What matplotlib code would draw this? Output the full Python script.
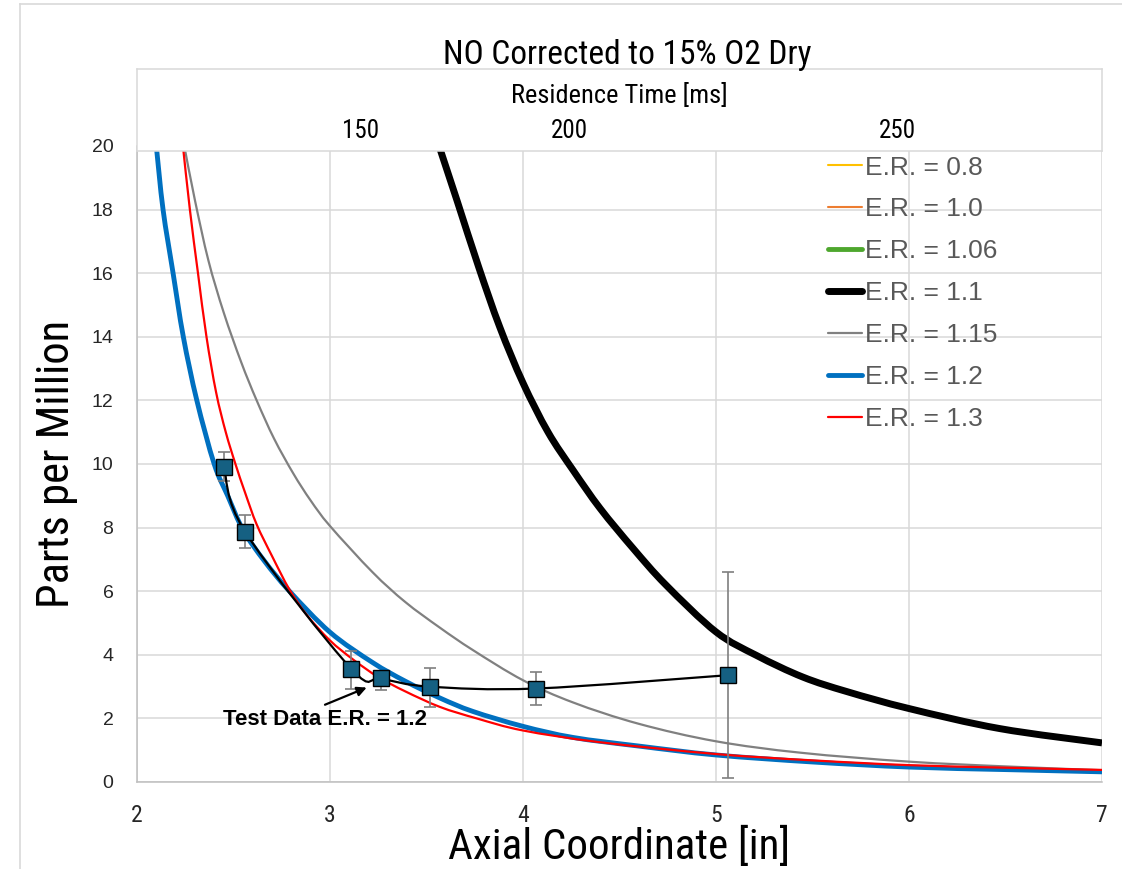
import matplotlib
matplotlib.use("Agg")
import matplotlib.pyplot as plt
from matplotlib.lines import Line2D
from matplotlib.path import Path
from matplotlib.patches import PathPatch
from matplotlib import font_manager

# =========================
# data
# =========================

# E.R. = 1.2 model curve
x_er12 = [2.10, 2.135, 2.187, 2.24, 2.31, 2.40, 2.47, 2.55, 2.66, 2.79, 3.0, 3.22, 3.39, 3.57, 3.74, 4.0, 4.26, 4.6, 5.0, 5.5, 6.0, 6.5, 7.0]
y_er12 = [20.0, 18.0, 16.0, 14.0, 12.0, 10.0, 9.0, 7.92, 6.95, 6.0, 4.71, 3.76, 3.17, 2.64, 2.22, 1.75, 1.40, 1.13, 0.85, 0.63, 0.47, 0.39, 0.32]

# E.R. = 1.3 model curve
x_er13 = [2.238, 2.274, 2.316, 2.36, 2.41, 2.46, 2.51, 2.56, 2.62, 2.70, 2.79, 2.88, 3.0, 3.12, 3.25, 3.39, 3.57, 3.76, 4.0, 4.4, 5.0, 5.5, 6.0, 6.5, 7.0]
y_er13 = [20.0, 18.0, 16.0, 14.0, 12.25, 11.0, 10.0, 9.1, 8.1, 7.1, 6.05, 5.25, 4.45, 3.85, 3.3, 2.85, 2.36, 2.0, 1.62, 1.25, 0.88, 0.68, 0.53, 0.45, 0.38]

# E.R. = 1.15 model curve
x_er115 = [2.245, 2.30, 2.37, 2.45, 2.54, 2.62, 2.71, 2.81, 2.90, 3.0, 3.22, 3.39, 3.57, 3.74, 4.0, 4.26, 4.6, 5.0, 5.44, 6.0, 6.5, 7.0]
y_er115 = [20.0, 18.3, 16.4, 14.75, 13.2, 12.0, 10.8, 9.7, 8.85, 8.05, 6.6, 5.66, 4.85, 4.15, 3.2, 2.5, 1.83, 1.28, 0.92, 0.64, 0.49, 0.37]

# E.R. = 1.1 model curve
x_er11 = [3.565, 3.66, 3.77, 3.88, 4.00, 4.13, 4.26, 4.40, 4.57, 4.74, 5.0, 5.21, 5.45, 5.68, 6.0, 6.47, 7.0]
y_er11 = [20.0, 18.25, 16.2, 14.3, 12.55, 11.0, 9.8, 8.6, 7.35, 6.2, 4.72, 3.98, 3.3, 2.84, 2.31, 1.68, 1.23]

# E.R. = 0.8, 1.0, 1.06 lie above 20 ppm everywhere in the window (legend only)
x_er08, y_er08 = [], []
x_er10, y_er10 = [], []
x_er106, y_er106 = [], []

# test data E.R. = 1.2
x_test = [2.45, 2.56, 3.11, 3.265, 3.516, 4.069, 5.064]
y_test = [9.92, 7.87, 3.56, 3.26, 3.0, 2.94, 3.36]
y_test_hi = [10.38, 8.40, 4.12, 3.50, 3.59, 3.47, 6.59]
y_test_lo = [9.45, 7.36, 2.91, 2.90, 2.37, 2.41, 0.14]

# residence time axis (top)
res_labels = ["150", "200", "250"]
res_pos = [3.16, 4.24, 5.94]

x_ticks = [2, 3, 4, 5, 6, 7]
y_ticks = [0, 2, 4, 6, 8, 10, 12, 14, 16, 18, 20]


# =========================
# fonts
# =========================

names = {f.name for f in font_manager.fontManager.ttflist}
narrow = "DejaVu Sans"
for cand in ["Liberation Sans Narrow", "Roboto Condensed", "Open Sans Condensed"]:
    if cand in names:
        narrow = cand
        break

plt.rcParams["font.family"] = ["Liberation Sans", "DejaVu Sans"]


# =========================
# smoothed line (like Excel "smoothed line")
# =========================

def smooth_path(xs, ys):
    pts = list(zip(xs, ys))
    n = len(pts)
    verts = [pts[0]]
    codes = [Path.MOVETO]
    for i in range(n - 1):
        p0 = pts[i - 1] if i > 0 else pts[i]
        p1 = pts[i]
        p2 = pts[i + 1]
        p3 = pts[i + 2] if i + 2 < n else pts[i + 1]
        c1 = (p1[0] + (p2[0] - p0[0]) / 6, p1[1] + (p2[1] - p0[1]) / 6)
        c2 = (p2[0] - (p3[0] - p1[0]) / 6, p2[1] - (p3[1] - p1[1]) / 6)
        verts += [c1, c2, p2]
        codes += [Path.CURVE4] * 3
    return Path(verts, codes)


def curve(ax, xs, ys, color, lw, label, z=3):
    if len(xs) > 1:
        ax.add_patch(PathPatch(smooth_path(xs, ys), fill=False, edgecolor=color,
                               lw=lw, capstyle="butt", joinstyle="round", zorder=z))
    # legend entry
    ax.plot([], [], color=color, lw=lw, label=label, solid_capstyle="round")


# =========================
# figure
# =========================

W, H = 1122, 869
fig = plt.figure(figsize=(W / 100, H / 100), dpi=100)

L, R = 137 / W, 1102 / W
B, T = 1 - 782 / H, 1 - 146 / H
ax = fig.add_axes([L, B, R - L, T - B])

curve(ax, x_er08, y_er08, "#FFC000", 1.5, "E.R. = 0.8")
curve(ax, x_er10, y_er10, "#ED7D31", 1.5, "E.R. = 1.0")
curve(ax, x_er106, y_er106, "#4EA72E", 3.5, "E.R. = 1.06")
curve(ax, x_er11, y_er11, "black", 5, "E.R. = 1.1")
curve(ax, x_er115, y_er115, "#808080", 1.6, "E.R. = 1.15")
curve(ax, x_er12, y_er12, "#0070C0", 3.5, "E.R. = 1.2")
curve(ax, x_er13, y_er13, "#FF0000", 1.6, "E.R. = 1.3")

# test data
yerr = [
    [y - lo for y, lo in zip(y_test, y_test_lo)],
    [hi - y for y, hi in zip(y_test, y_test_hi)],
]
ax.errorbar(
    x_test, y_test, yerr=yerr,
    fmt="none", ecolor="#7F7F7F", elinewidth=1.2, capsize=4, capthick=1.2,
    zorder=5
)
ax.add_patch(PathPatch(smooth_path(x_test, y_test), fill=False,
                       edgecolor="black", lw=1.6, zorder=6))
ax.plot(
    x_test, y_test,
    ls="none", marker="s", markersize=11,
    markerfacecolor="#156082", markeredgecolor="black", markeredgewidth=1,
    zorder=7
)

ax.text(2.974, 1.98, "Test Data E.R. = 1.2", ha="center", va="center",
        fontsize=16, fontweight="bold", color="black", zorder=8)
ax.annotate(
    "", xy=(3.19, 2.97), xytext=(2.974, 2.43),
    arrowprops=dict(arrowstyle="-|>", color="black", lw=1.6,
                    mutation_scale=14, shrinkA=0, shrinkB=0),
    zorder=8
)

ax.set_xlim(2, 7)
ax.set_ylim(0, 20)
ax.set_xticks(x_ticks)
ax.set_yticks(y_ticks)
ax.grid(True, color="#D9D9D9", lw=1.1)
ax.set_axisbelow(True)
for s in ["top", "right"]:
    ax.spines[s].set_visible(False)
for s in ["left", "bottom"]:
    ax.spines[s].set_color("#BFBFBF")
    ax.spines[s].set_linewidth(1.1)

ax.tick_params(axis="y", length=0, pad=17, labelsize=14, labelcolor="#262626")
ax.tick_params(axis="x", length=0, pad=16, labelsize=17, labelcolor="#262626")
for lab in ax.get_xticklabels():
    lab.set_family(narrow)

ax.set_xlabel("Axial Coordinate [in]", fontsize=31, family=narrow, labelpad=0)
ax.set_ylabel("Parts per Million", fontsize=32, family=narrow, labelpad=10)

leg = ax.legend(
    loc="upper left", bbox_to_anchor=(0.716, 0.985),
    frameon=False, fontsize=19, handlelength=1.3, handletextpad=0.12,
    labelspacing=0.68, borderpad=0, borderaxespad=0
)
for t in leg.get_texts():
    t.set_color("#595959")


# =========================
# top box: residence time
# =========================

tb = fig.add_axes([L, 1 - 151 / H, R - L, 82 / H])
tb.set_xlim(2, 7)
tb.set_ylim(0, 1)
tb.set_yticks([])
tb.set_xticks(res_pos, res_labels)
tb.tick_params(axis="x", length=0, pad=-23, labelsize=18, labelcolor="black")
for lab in tb.get_xticklabels():
    lab.set_family(narrow)
for s in tb.spines.values():
    s.set_color("#D9D9D9")
    s.set_linewidth(1.1)
tb.text(0.5, 0.68, "Residence Time [ms]", transform=tb.transAxes,
        ha="center", va="center", fontsize=19, family=narrow)

fig.text(627 / W, 1 - 55 / H, "NO Corrected to 15% O2 Dry",
         ha="center", va="center", fontsize=24, family=narrow)

# chart frame
fig.add_artist(Line2D([20 / W, 20 / W], [0, 1 - 4 / H], transform=fig.transFigure,
                      color="#D9D9D9", lw=1.2))
fig.add_artist(Line2D([20 / W, 1], [1 - 4 / H, 1 - 4 / H], transform=fig.transFigure,
                      color="#D9D9D9", lw=1.2))

fig.savefig("out.png", dpi=100)
